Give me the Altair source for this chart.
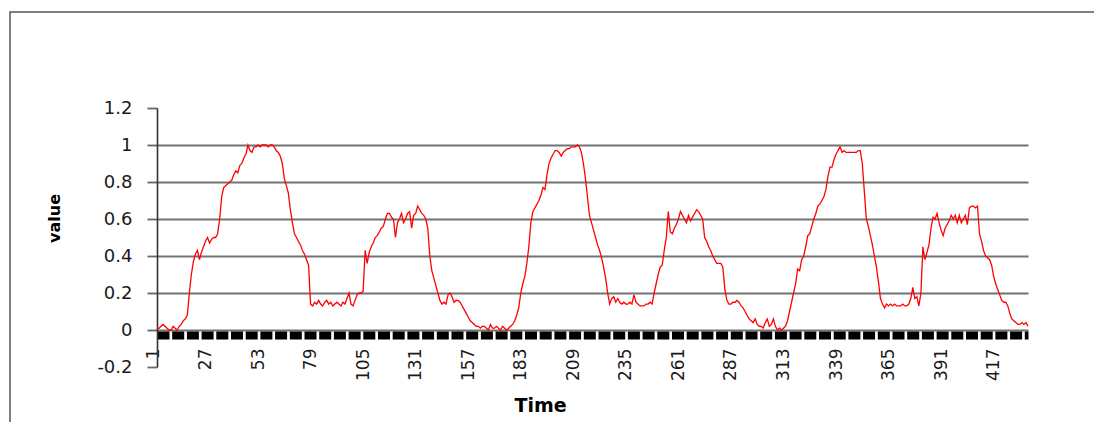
import altair as alt
import pandas as pd

# series values, one per time step (Time = 1..432)
values = [
    0.00, 0.01, 0.02, 0.03, 0.02, 0.01, 0.00, 0.00, 0.02, 0.01,
    0.00, 0.02, 0.03, 0.05, 0.06, 0.08, 0.20, 0.30, 0.37, 0.41,
    0.43, 0.38, 0.42, 0.45, 0.48, 0.50, 0.47, 0.49, 0.50, 0.50,
    0.52, 0.60, 0.72, 0.77, 0.78, 0.79, 0.80, 0.81, 0.84, 0.86,
    0.85, 0.89, 0.90, 0.93, 0.95, 1.00, 0.97, 0.96, 0.99, 0.99,
    1.00, 0.99, 1.00, 1.00, 1.00, 0.99, 1.00, 1.00, 0.99, 0.97,
    0.96, 0.94, 0.90, 0.82, 0.78, 0.74, 0.65, 0.58, 0.52, 0.50,
    0.48, 0.46, 0.43, 0.41, 0.38, 0.35, 0.14, 0.13, 0.15, 0.14,
    0.16, 0.14, 0.13, 0.15, 0.16, 0.14, 0.15, 0.13, 0.14, 0.15,
    0.14, 0.13, 0.15, 0.14, 0.17, 0.20, 0.14, 0.13, 0.16, 0.19,
    0.20, 0.20, 0.21, 0.43, 0.36, 0.42, 0.45, 0.47, 0.50, 0.51,
    0.53, 0.55, 0.56, 0.60, 0.63, 0.63, 0.61, 0.60, 0.50, 0.58,
    0.60, 0.63, 0.58, 0.60, 0.63, 0.64, 0.55, 0.62, 0.63, 0.67,
    0.65, 0.63, 0.62, 0.60, 0.55, 0.40, 0.32, 0.28, 0.24, 0.20,
    0.16, 0.14, 0.15, 0.14, 0.19, 0.20, 0.18, 0.15, 0.16, 0.16,
    0.15, 0.13, 0.11, 0.09, 0.07, 0.05, 0.04, 0.03, 0.02, 0.02,
    0.01, 0.02, 0.02, 0.01, 0.00, 0.03, 0.01, 0.01, 0.02, 0.01,
    0.00, 0.02, 0.01, 0.00, 0.01, 0.02, 0.03, 0.05, 0.08, 0.12,
    0.20, 0.25, 0.29, 0.36, 0.45, 0.58, 0.64, 0.66, 0.68, 0.70,
    0.73, 0.77, 0.76, 0.84, 0.90, 0.93, 0.95, 0.97, 0.97, 0.96,
    0.94, 0.96, 0.97, 0.98, 0.98, 0.99, 0.99, 0.99, 1.00, 0.99,
    0.96, 0.90, 0.82, 0.72, 0.62, 0.58, 0.54, 0.50, 0.46, 0.43,
    0.39, 0.34, 0.28, 0.20, 0.14, 0.17, 0.18, 0.15, 0.17, 0.15,
    0.14, 0.15, 0.14, 0.14, 0.15, 0.14, 0.19, 0.15, 0.14, 0.13,
    0.13, 0.13, 0.14, 0.14, 0.15, 0.14, 0.20, 0.25, 0.30, 0.34,
    0.35, 0.43, 0.50, 0.64, 0.53, 0.52, 0.55, 0.57, 0.60, 0.64,
    0.62, 0.60, 0.58, 0.62, 0.59, 0.61, 0.63, 0.65, 0.64, 0.62,
    0.60, 0.50, 0.48, 0.45, 0.43, 0.40, 0.38, 0.36, 0.36, 0.36,
    0.34, 0.22, 0.16, 0.14, 0.14, 0.15, 0.15, 0.16, 0.15, 0.13,
    0.12, 0.10, 0.08, 0.06, 0.05, 0.04, 0.06, 0.03, 0.02, 0.02,
    0.01, 0.04, 0.06, 0.02, 0.03, 0.06, 0.02, 0.00, 0.01, 0.00,
    0.01, 0.02, 0.05, 0.10, 0.15, 0.20, 0.25, 0.33, 0.32, 0.38,
    0.40, 0.45, 0.51, 0.52, 0.56, 0.60, 0.63, 0.67, 0.68, 0.70,
    0.72, 0.76, 0.83, 0.88, 0.88, 0.92, 0.95, 0.97, 0.99, 0.96,
    0.97, 0.96, 0.96, 0.96, 0.96, 0.96, 0.96, 0.97, 0.97, 0.90,
    0.75, 0.60, 0.56, 0.51, 0.46, 0.40, 0.34, 0.26, 0.17, 0.14,
    0.12, 0.14, 0.13, 0.14, 0.13, 0.14, 0.13, 0.13, 0.13, 0.14,
    0.13, 0.13, 0.14, 0.17, 0.23, 0.17, 0.18, 0.13, 0.20, 0.45,
    0.38, 0.42, 0.46, 0.55, 0.61, 0.60, 0.63, 0.58, 0.54, 0.51,
    0.55, 0.57, 0.59, 0.62, 0.60, 0.62, 0.58, 0.62, 0.58, 0.60,
    0.62, 0.57, 0.66, 0.67, 0.67, 0.66, 0.67, 0.52, 0.48, 0.43,
    0.40, 0.39, 0.38, 0.35, 0.29, 0.25, 0.22, 0.19, 0.16, 0.15,
    0.15, 0.13, 0.09, 0.06, 0.05, 0.04, 0.03, 0.03, 0.04, 0.03,
    0.04, 0.02,
]
time = list(range(1, len(values) + 1))

x_tick_labels = [1, 27, 53, 79, 105, 131, 157, 183, 209, 235, 261, 287, 313, 339, 365, 391, 417]
y_tick_labels = [-0.2, 0, 0.2, 0.4, 0.6, 0.8, 1, 1.2]

df = pd.DataFrame({"Time": time, "value": values})

W, H = 871, 259

line = alt.Chart(df).mark_line(color="#ff0000", strokeWidth=1.3).encode(
    x=alt.X(
        "Time:Q",
        scale=alt.Scale(domain=[1, len(values)], nice=False, zero=False),
        axis=alt.Axis(
            values=x_tick_labels,
            format="d",
            labelAngle=270,
            labelAlign="right",
            labelBaseline="middle",
            labelFont="DejaVu Sans",
            labelFontSize=17,
            labelColor="#1a1a1a",
            labelPadding=13,
            labelOffset=-4,
            labelFlush=False,
            labelOverlap=False,
            labelBound=False,
            ticks=False,
            grid=False,
            domainColor="#000000",
            domainWidth=8,
            domainDash=[12, 2.7],
            offset=-32,
            title="Time",
            titleFont="DejaVu Sans",
            titleFontWeight="bold",
            titleFontSize=19,
            titleColor="#000000",
            titleX=383,
            titleY=70,
            titleAlign="center",
            titleBaseline="middle",
        ),
    ),
    y=alt.Y(
        "value:Q",
        scale=alt.Scale(domain=[-0.2, 1.2], nice=False, zero=False),
        axis=alt.Axis(
            values=y_tick_labels,
            labelExpr="datum.value < 0 ? '-' + format(-datum.value, '~g') : format(datum.value, '~g')",
            labelFont="DejaVu Sans",
            labelFontSize=18,
            labelColor="#1a1a1a",
            labelPadding=15,
            tickSize=10,
            tickColor="#666666",
            tickWidth=1.8,
            domainColor="#333333",
            domainWidth=1.6,
            grid=True,
            gridColor="#737373",
            gridWidth=1.9,
            gridOpacity={"condition": {"test": "datum.value > 1.1 || datum.value < -0.1", "value": 0}, "value": 1},
            title="value",
            titleFont="DejaVu Sans",
            titleFontWeight="bold",
            titleFontSize=16,
            titleColor="#000000",
            titleAngle=270,
            titleX=-103,
            titleY=110,
            titleAlign="center",
            titleBaseline="middle",
        ),
    ),
)

frame = alt.Chart(alt.Data(values=[{}])).mark_rect(
    fillOpacity=0, stroke="#555555", strokeWidth=1.5, clip=False
).encode(
    x=alt.value(-147), x2=alt.value(980), y=alt.value(-96), y2=alt.value(340)
)

chart = alt.layer(frame, line).properties(
    width=W,
    height=H,
    autosize=alt.AutoSizeParams(type="none"),
    padding={"left": 149, "top": 100, "right": 66, "bottom": 55},
    background="white",
).configure_view(stroke=None)

chart.save("out.html", embed_options={"renderer": "svg", "actions": False})
